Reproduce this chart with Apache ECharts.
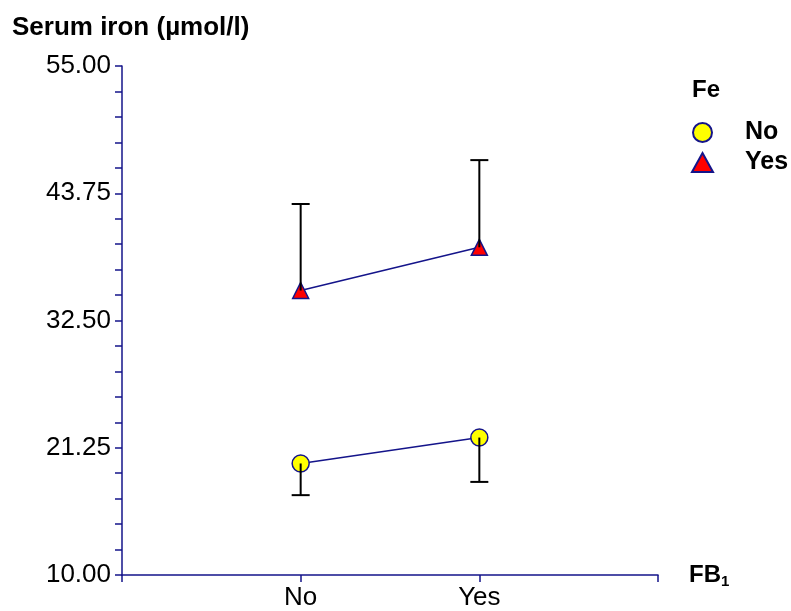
<!DOCTYPE html>
<html>
<head>
<meta charset="utf-8">
<script src="https://cdn.jsdelivr.net/npm/echarts@6/dist/echarts.min.js"></script>
<style>html,body{margin:0;padding:0;background:#fff;}#c{width:791px;height:611px;}</style>
</head>
<body>
<div id="c"></div>
<script>
// ---- data ----
var xCategories = ['No', 'Yes'];            // FB1 levels
var seriesNames = ['No', 'Yes'];            // Fe levels
var meanFeNo  = [19.86, 22.15];             // Fe = No (circles)
var meanFeYes = [35.15, 38.97];             // Fe = Yes (triangles)
var errFeNo   = [17.06, 18.23];             // lower error bar ends, Fe = No
var errFeYes  = [42.80, 46.68];             // upper error bar ends, Fe = Yes
var yTickLabels = [10.00, 21.25, 32.50, 43.75, 55.00];
var yMinorTicks = [10, 12.25, 14.5, 16.75, 19, 21.25, 23.5, 25.75, 28, 30.25, 32.5,
                   34.75, 37, 39.25, 41.5, 43.75, 46, 48.25, 50.5, 52.75, 55];

var navy = '#14148a';
var FONT = 'Liberation Sans';

function pts(arr) { return arr.map(function (v, i) { return [i + 1, v]; }); }
function errPts(mean, end) { return mean.map(function (v, i) { return [i + 1, v, end[i]]; }); }

function errRender(params, api) {
  var x = api.value(0), m = api.value(1), e = api.value(2);
  var p0 = api.coord([x, m]), p1 = api.coord([x, e]);
  var st = { stroke: '#000', lineWidth: 2 };
  return { type: 'group', children: [
    { type: 'line', shape: { x1: p0[0], y1: p0[1], x2: p1[0], y2: p1[1] }, style: st },
    { type: 'line', shape: { x1: p1[0] - 9, y1: p1[1], x2: p1[0] + 9, y2: p1[1] }, style: st }
  ]};
}

var chart = echarts.init(document.getElementById('c'), null, { renderer: 'canvas' });
chart.setOption({
  animation: false,
  backgroundColor: '#fff',
  title: [
    { text: 'Serum iron (µmol/l)', left: 7, top: 10,
      textStyle: { fontFamily: FONT, fontWeight: 'bold', fontSize: 26, color: '#000' } },
    { text: 'Fe', left: 687, top: 73,
      textStyle: { fontFamily: FONT, fontWeight: 'bold', fontSize: 24, color: '#000' } }
  ],
  legend: {
    orient: 'vertical', left: 686, top: 115, itemGap: 5,
    itemWidth: 21, itemHeight: 19,
    data: [{ name: seriesNames[0], icon: 'circle' }, { name: seriesNames[1], icon: 'triangle' }],
    textStyle: { fontFamily: FONT, fontWeight: 'bold', fontSize: 25, color: '#000', padding: [0, 0, 0, 27] }
  },
  grid: { left: 122, right: 133, top: 66, bottom: 36 },
  xAxis: {
    type: 'value', min: 0, max: 3,
    name: 'FB{s|1}', nameLocation: 'end', nameGap: 31,
    nameTextStyle: { fontFamily: FONT, fontWeight: 'bold', fontSize: 24, color: '#000',
      rich: { s: { fontFamily: FONT, fontWeight: 'bold', fontSize: 15, color: '#000', verticalAlign: 'bottom', padding: [14, 0, 0, 0] } } },
    axisLine: { lineStyle: { color: navy, width: 1.5 } },
    axisTick: { show: true, length: 7, lineStyle: { color: navy, width: 1.5 }, customValues: [0, 1, 2, 3] },
    axisLabel: { customValues: [1, 2], margin: 10,
      formatter: function (v) { return xCategories[Math.round(v) - 1] || ''; },
      fontFamily: FONT, fontSize: 26, color: '#000' },
    splitLine: { show: false }
  },
  yAxis: {
    type: 'value', min: 10, max: 55,
    axisLine: { show: true, lineStyle: { color: navy, width: 1.5 } },
    axisTick: { show: true, length: 7, lineStyle: { color: navy, width: 1.5 }, customValues: yMinorTicks },
    axisLabel: { customValues: yTickLabels, margin: 11,
      formatter: function (v) { return v.toFixed(2); },
      fontFamily: FONT, fontSize: 26, color: '#000' },
    splitLine: { show: false }
  },
  series: [
    { name: seriesNames[0], type: 'line', data: pts(meanFeNo), symbol: 'circle', symbolSize: 17,
      lineStyle: { color: navy, width: 1.5 },
      itemStyle: { color: '#ffff00', borderColor: navy, borderWidth: 1.5 }, z: 2 },
    { name: seriesNames[1], type: 'line', data: pts(meanFeYes), symbol: 'triangle', symbolSize: 16,
      lineStyle: { color: navy, width: 1.5 },
      itemStyle: { color: '#ff0000', borderColor: navy, borderWidth: 1.5 }, z: 2 },
    { type: 'custom', renderItem: errRender, data: errPts(meanFeNo, errFeNo), z: 5, silent: true },
    { type: 'custom', renderItem: errRender, data: errPts(meanFeYes, errFeYes), z: 5, silent: true }
  ]
});
</script>
</body>
</html>
